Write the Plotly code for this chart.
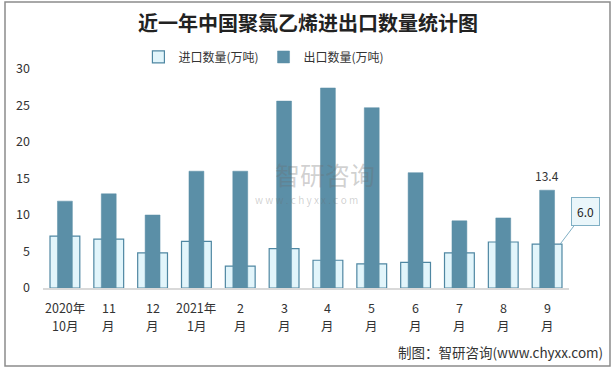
import plotly.graph_objects as go

categories = ["2020年10月", "11月", "12月", "2021年1月", "2月", "3月", "4月", "5月", "6月", "7月", "8月", "9月"]
label_line1 = ["2020年", "11", "12", "2021年", "2", "3", "4", "5", "6", "7", "8", "9"]
label_line2 = ["10月", "月", "月", "1月", "月", "月", "月", "月", "月", "月", "月", "月"]
imports = [7.1, 6.7, 4.8, 6.4, 3.0, 5.4, 3.8, 3.3, 3.5, 4.8, 6.3, 6.0]
exports = [11.9, 12.9, 10.0, 16.0, 16.0, 25.6, 27.4, 24.7, 15.8, 9.2, 9.6, 13.4]
yticks = [0, 5, 10, 15, 20, 25, 30]

FONT = "Noto Sans CJK SC"
fig = go.Figure()
fig.add_trace(go.Bar(
    x=categories, y=imports, name="进口数量(万吨)", width=0.68,
    marker=dict(color="#E2F5FB", line=dict(color="#4F87A2", width=1.2)),
))
fig.add_trace(go.Bar(
    x=categories, y=exports, name="出口数量(万吨)", width=0.34,
    marker=dict(color="#5B8FA7", line=dict(color="#5B8FA7", width=0.5)),
))

annotations = []
for c, a, b in zip(categories, label_line1, label_line2):
    annotations.append(dict(x=c, y=-0.087, xref="x", yref="paper", text=a, showarrow=False,
                            yanchor="middle", font=dict(size=12.5, color="#333333", family=FONT)))
    annotations.append(dict(x=c, y=-0.17, xref="x", yref="paper", text=b, showarrow=False,
                            yanchor="middle", font=dict(size=12.5, color="#333333", family=FONT)))
# data labels for last month
annotations.append(dict(x=categories[-1], y=exports[-1], text=f"{exports[-1]:.1f}", showarrow=False,
                        yanchor="bottom", yshift=4, font=dict(size=12, color="#333333", family=FONT)))
annotations.append(dict(x=categories[-1], y=imports[-1], text=f"{imports[-1]:.1f}", showarrow=True,
                        xshift=13, ax=25, ay=-33, arrowhead=0, arrowwidth=1, arrowcolor="#7FAFC4",
                        bordercolor="#7FAFC4", borderwidth=1, borderpad=5, bgcolor="#EAF6FA",
                        font=dict(size=12, color="#222222", family=FONT)))
# watermark
annotations.append(dict(x=0.536, y=0.52, xref="paper", yref="paper", text="智研咨询", showarrow=False,
                        yanchor="middle", font=dict(size=25, color="rgba(110,110,110,0.33)", family=FONT)))
annotations.append(dict(x=0.5, y=0.405, xref="paper", yref="paper", text="w w w . c h y x x . c o m",
                        showarrow=False, yanchor="middle",
                        font=dict(size=10, color="rgba(110,110,110,0.33)", family=FONT)))
# source
annotations.append(dict(x=1.068, y=-0.292, xref="paper", yref="paper", text="制图：智研咨询(www.chyxx.com)",
                        showarrow=False, xanchor="right", yanchor="middle",
                        font=dict(size=13.5, color="#333333", family=FONT)))

fig.update_layout(
    width=616, height=369,
    margin=dict(l=43, r=47, t=69, b=81),
    paper_bgcolor="white", plot_bgcolor="white",
    barmode="overlay",
    title=dict(text="<b>近一年中国聚氯乙烯进出口数量统计图</b>", x=0.5, xanchor="center", y=0.935, yanchor="middle",
               font=dict(size=20, color="#222222", family=FONT)),
    legend=dict(orientation="h", x=0.42, xanchor="center", y=1.055, yanchor="middle",
                font=dict(size=12, color="#333333", family=FONT), traceorder="normal"),
    xaxis=dict(range=[-0.5, 11.5], showticklabels=False, showline=True, linecolor="#D9D9D9", linewidth=1.5,
               ticks="", showgrid=False),
    yaxis=dict(range=[0, 30], tickvals=yticks, showgrid=False, zeroline=False, showline=False,
               ticklabelstandoff=12, tickfont=dict(size=12.5, color="#333333", family=FONT)),
    annotations=annotations,
    shapes=[dict(type="rect", xref="paper", yref="paper", x0=-38/526, x1=1+41/526, y0=-78/219, y1=1+67/219,
                 line=dict(color="#8C8C8C", width=1.5))],
)
fig.write_html("out.html", config={"displayModeBar": False},
               post_script="document.body.style.margin='0';document.body.style.overflow='hidden';")
